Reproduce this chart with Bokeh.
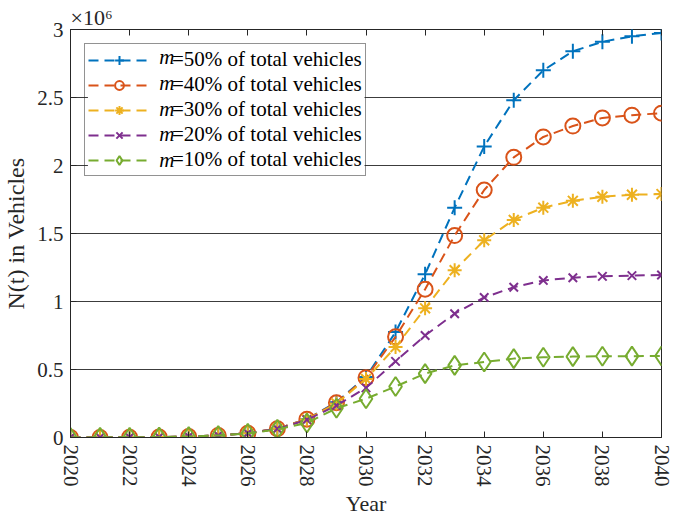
from bokeh.plotting import figure
from bokeh.models import (Range1d, FixedTicker, NumeralTickFormatter, LinearAxis,
                          Legend, LegendItem, Label, CustomJSTickFormatter,
                          BoxAnnotation, Title)
from bokeh.embed import file_html
from bokeh.resources import INLINE

# Cumulative vehicles N(t), in millions, per year
years = list(range(2020, 2041))
n_50 = [0.0003, 0.0007, 0.0015, 0.003, 0.007, 0.015, 0.031, 0.065, 0.135, 0.26, 0.445,
        0.775, 1.20, 1.69, 2.14, 2.48, 2.70, 2.84, 2.91, 2.95, 2.975]
n_40 = [0.0003, 0.0007, 0.0015, 0.003, 0.007, 0.015, 0.031, 0.065, 0.135, 0.255, 0.44,
        0.74, 1.09, 1.485, 1.82, 2.06, 2.21, 2.29, 2.35, 2.37, 2.385]
n_30 = [0.0003, 0.0007, 0.0015, 0.003, 0.007, 0.015, 0.031, 0.064, 0.133, 0.25, 0.43,
        0.665, 0.95, 1.23, 1.45, 1.60, 1.69, 1.74, 1.77, 1.785, 1.79]
n_20 = [0.0003, 0.0007, 0.0015, 0.003, 0.007, 0.015, 0.031, 0.064, 0.13, 0.235, 0.365,
        0.56, 0.75, 0.91, 1.03, 1.105, 1.155, 1.175, 1.185, 1.19, 1.195]
n_10 = [0.0003, 0.0007, 0.0015, 0.003, 0.007, 0.015, 0.03, 0.06, 0.107, 0.215, 0.285,
        0.375, 0.47, 0.53, 0.555, 0.58, 0.59, 0.595, 0.597, 0.598, 0.599]

shares = ["50%", "40%", "30%", "20%", "10%"]
values = [n_50, n_40, n_30, n_20, n_10]
colors = ["#0072BD", "#D95319", "#EDB120", "#7E2F8E", "#77AC30"]
markers = ["cross", "circle", "asterisk", "x", "diamond"]
marker_sizes = [15, 15, 14, 12, 19]

x_ticks = list(range(2020, 2041, 2))
y_ticks = [0, 0.5, 1, 1.5, 2, 2.5, 3]

FONT = "Liberation Serif"
INK = "#262626"

p = figure(width=673, height=518, output_backend="svg", toolbar_location=None,
           x_range=Range1d(2020, 2040), y_range=Range1d(0, 3),
           min_border_left=66, min_border_right=12, min_border_top=29,
           min_border_bottom=81, background_fill_color="white")
p.outline_line_color = INK
p.outline_line_width = 1
p.outline_line_alpha = 1

p.xgrid.visible = False
p.ygrid.ticker = FixedTicker(ticks=y_ticks)
p.ygrid.grid_line_color = "#3c3c3c"
p.ygrid.grid_line_width = 1

# bottom axis: years, rotated labels, ticks pointing inward
xa = p.xaxis[0]
xa.ticker = FixedTicker(ticks=x_ticks)
xa.major_label_orientation = "vertical"
xa.axis_label = "Year"
ya = p.yaxis[0]
ya.ticker = FixedTicker(ticks=y_ticks)
ya.formatter = NumeralTickFormatter(format="0.[0]")
ya.axis_label = "N(t) in Vehicles"

for ax, lab_size in ((xa, "22px"), (ya, "24px")):
    ax.axis_line_color = INK
    ax.major_tick_line_color = INK
    ax.major_tick_in = 6
    ax.major_tick_out = 0
    ax.minor_tick_line_color = None
    ax.major_label_text_font = FONT
    ax.major_label_text_font_size = "21px"
    ax.major_label_text_color = INK
    ax.axis_label_text_font = FONT
    ax.axis_label_text_font_size = lab_size
    ax.axis_label_text_font_style = "normal"
    ax.axis_label_text_color = INK
xa.major_label_standoff = 7
xa.axis_label_standoff = 1
ya.major_label_standoff = 7
ya.axis_label_standoff = 5

# top axis: inward ticks only
top = LinearAxis(ticker=FixedTicker(ticks=x_ticks),
                 formatter=CustomJSTickFormatter(code="return ''"),
                 axis_line_color=None, major_tick_line_color=INK,
                 major_tick_in=6, major_tick_out=0, minor_tick_line_color=None,
                 major_label_standoff=0)
p.add_layout(top, "above")

# axis exponent above the top-left corner
p.add_layout(Title(text="×10⁶", align="left", offset=0, standoff=0,
                   text_font=FONT, text_font_size="22px", text_font_style="normal",
                   text_color=INK), "above")

items = []
for share, vals, col, mk, ms in zip(shares, values, colors, markers, marker_sizes):
    lr = p.line(years, vals, line_color=col, line_width=2, line_dash="10 6")
    sr = p.scatter(years, vals, marker=mk, size=ms, line_color=col, line_width=2,
                   fill_color=None)
    items.append(LegendItem(label="=" + share + " of total vehicles", renderers=[lr, sr]))

# white panel behind the legend (hides the grid lines it sits on)
p.add_layout(BoxAnnotation(left=2020.59, right=2029.95, bottom=1.93, top=2.905,
                           fill_color="white", fill_alpha=1, line_color=None))

legend = Legend(items=items, location=(14, 261), margin=0,
                glyph_width=62, glyph_height=22, label_height=22,
                label_standoff=22, spacing=0, padding=3,
                label_text_font=FONT, label_text_font_size="21px",
                label_text_color="black",
                border_line_color=INK, border_line_width=1,
                background_fill_alpha=0)
p.add_layout(legend)

# italic variable name in front of each legend entry
row_y = [2.801, 2.610, 2.419, 2.228, 2.037]
for ry in row_y:
    p.add_layout(Label(x=2023.0, y=ry, text="m", text_font=FONT,
                       text_font_style="italic", text_font_size="21px",
                       text_baseline="middle", text_align="left",
                       text_color="black", level="overlay"))

open("out.html", "w").write(file_html(p, INLINE))
